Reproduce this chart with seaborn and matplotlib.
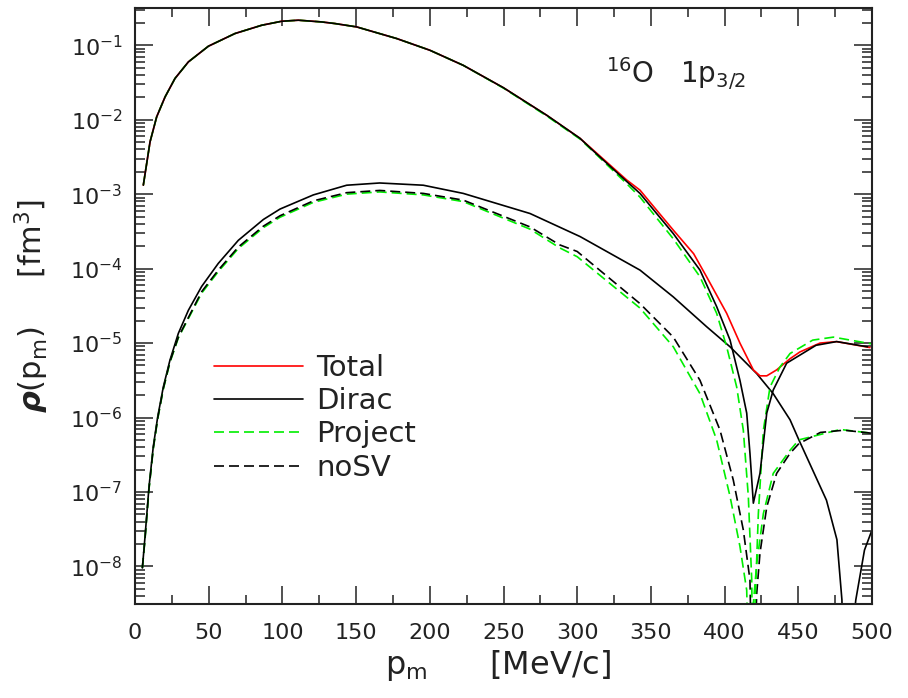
import numpy as np
import pandas as pd
import matplotlib
matplotlib.use("Agg")
import matplotlib.pyplot as plt
from matplotlib.lines import Line2D
from matplotlib.ticker import LogLocator, MultipleLocator, NullFormatter
import seaborn as sns

# ---------------- data (y given as log10 of rho) ----------------
# upper-component curves
total_x = [5.65, 10.2, 14.7, 20.4, 27.1, 36.2, 49.8, 67.8, 85.9, 99.5, 110.8, 126.6, 135.7,
           150.4, 177.5, 200, 222.7, 249.9, 279.3, 301.9, 311, 333.6, 342.6, 356, 365.2,
           379, 387.8, 401.4, 410.4, 419.5, 424, 428.6, 435.3, 444.4, 451, 464.7, 476, 498.6]
total_log = [-2.879, -2.298, -1.962, -1.694, -1.447, -1.224, -1.013, -0.843, -0.732, -0.678,
             -0.664, -0.687, -0.709, -0.754, -0.91, -1.067, -1.27, -1.57, -1.94, -2.25, -2.41,
             -2.81, -2.946, -3.265, -3.483, -3.80, -4.11, -4.60, -5.00, -5.36, -5.44, -5.44,
             -5.36, -5.21, -5.12, -5.00, -4.98, -5.06]

dirac_up_x = [5.65, 10.2, 14.7, 20.4, 27.1, 36.2, 49.8, 67.8, 85.9, 99.5, 110.8, 126.6, 135.7,
              150.4, 177.5, 200, 222.7, 249.9, 279.3, 301.9, 311, 333.6, 342.6, 365.2, 383.3,
              394.6, 403.7, 410.4, 415, 417.2, 419.5, 424, 428.6, 433, 442.1, 462, 476, 497]
dirac_up_log = [-2.879, -2.298, -1.962, -1.694, -1.447, -1.224, -1.013, -0.843, -0.732, -0.678,
                -0.664, -0.687, -0.709, -0.754, -0.91, -1.067, -1.27, -1.57, -1.94, -2.25, -2.42,
                -2.83, -2.99, -3.53, -4.02, -4.51, -4.96, -5.50, -5.94, -6.48, -7.15, -6.75,
                -5.94, -5.63, -5.27, -5.03, -4.98, -5.05]

proj_up_x = [5.65, 10.2, 14.7, 20.4, 27.1, 36.2, 49.8, 67.8, 85.9, 99.5, 110.8, 126.6, 135.7,
             150.4, 177.5, 200, 222.7, 249.9, 279.3, 301.9, 311, 333.6, 342.6, 365.2, 383.3,
             394.6, 401.4, 408.2, 412.7, 416.1, 418.4, 419.5, 420.5, 422.9, 426.3, 430.8,
             437.6, 444.4, 459.8, 473.8, 499.6]
proj_up_log = [-2.879, -2.298, -1.962, -1.694, -1.447, -1.224, -1.013, -0.843, -0.732, -0.678,
               -0.664, -0.687, -0.709, -0.754, -0.91, -1.067, -1.27, -1.575, -1.95, -2.26, -2.43,
               -2.86, -3.04, -3.60, -4.11, -4.60, -5.05, -5.59, -6.17, -7.06, -8.18, -10.0,
               -8.6, -7.29, -6.17, -5.59, -5.32, -5.14, -4.96, -4.92, -5.01]

# lower-component curves
dirac_lo_x = [5.0, 6.8, 9.5, 12.4, 15.4, 19.2, 23.7, 29.4, 36.2, 45.2, 56.5, 70.1, 87.1, 98.4,
              121, 143.6, 166, 195.6, 222.7, 268, 302, 342.6, 365.2, 387.8, 403.7, 421.8, 433,
              444.4, 450.4, 469.1, 476.2, 479.6, 481, 489, 494.9, 500]
dirac_lo_log = [-8.02, -7.60, -6.93, -6.39, -5.99, -5.59, -5.23, -4.87, -4.56, -4.24, -3.93,
                -3.62, -3.34, -3.20, -3.01, -2.88, -2.85, -2.88, -2.99, -3.26, -3.57, -4.02,
                -4.38, -4.78, -5.05, -5.41, -5.68, -6.03, -6.30, -7.11, -7.64, -8.45, -10.0,
                -8.45, -7.78, -7.51]

nosv_lo_x = [5.0, 6.8, 9.5, 12.4, 15.4, 19.2, 23.7, 29.4, 45.2, 56.5, 70.1, 87.1, 98.4, 121,
             143.6, 166, 195.6, 222.7, 268, 288, 300, 342.6, 365.2, 383.3, 396.9, 405.9, 412.7,
             417.2, 419, 421.8, 424, 428.6, 435.3, 444.4, 450.4, 465, 480.9, 499.6]
nosv_lo_log = [-8.02, -7.62, -6.95, -6.41, -6.01, -5.61, -5.25, -4.92, -4.31, -4.02, -3.71,
               -3.43, -3.29, -3.09, -2.98, -2.95, -2.99, -3.08, -3.44, -3.68, -3.77, -4.47,
               -4.92, -5.50, -6.17, -6.84, -7.51, -8.18, -10.0, -8.36, -7.82, -7.20, -6.75,
               -6.48, -6.35, -6.20, -6.17, -6.21]

proj_lo_x = [5.0, 6.8, 9.5, 12.4, 15.4, 19.2, 23.7, 29.4, 45.2, 56.5, 70.1, 87.1, 98.4, 121,
             143.6, 166, 195.6, 222.7, 268, 288, 300, 342.6, 365.2, 383.3, 394.6, 403.7, 410.4,
             415, 417, 419.5, 421.8, 426.3, 433, 444.4, 450.4, 478.5, 499.6]
proj_lo_log = [-8.02, -7.63, -6.96, -6.42, -6.02, -5.62, -5.26, -4.93, -4.33, -4.04, -3.73,
               -3.45, -3.31, -3.11, -3.00, -2.97, -3.01, -3.10, -3.47, -3.72, -3.84, -4.53,
               -5.05, -5.68, -6.30, -7.06, -7.73, -8.32, -10.0, -8.5, -7.96, -7.29, -6.75,
               -6.44, -6.30, -6.16, -6.21]

legend_labels = ["Total", "Dirac", "Project", "noSV"]

# ---------------- figure ----------------
sns.set_style("ticks")
plt.rcParams["font.family"] = ["DejaVu Sans"]
plt.rcParams["mathtext.default"] = "regular"

fig = plt.figure(figsize=(9.08, 6.98), dpi=100)
ax = fig.add_axes([135 / 908, 1 - 603.7 / 698, (872 - 135) / 908, (603.7 - 8) / 698])

GREEN = "#00ee00"
TXT = "#222222"
LW = 1.2
DASH = (0, (6, 3))


def draw(x, ylog, color, ls):
    df = pd.DataFrame({"x": x, "rho": np.power(10.0, np.asarray(ylog))})
    sns.lineplot(data=df, x="x", y="rho", ax=ax, color=color, linewidth=LW,
                 linestyle=ls, sort=False, estimator=None, legend=False)


# lower components
draw(dirac_lo_x, dirac_lo_log, "black", "-")
draw(proj_lo_x, proj_lo_log, GREEN, DASH)
draw(nosv_lo_x, nosv_lo_log, "black", DASH)
# upper components
draw(total_x, total_log, "red", "-")
draw(proj_up_x, proj_up_log, GREEN, DASH)
draw(dirac_up_x, dirac_up_log, "black", "-")

ax.set_yscale("log")
ax.set_xlim(0, 500)
ax.set_ylim(10 ** -8.5, 10 ** -0.5)

ax.xaxis.set_major_locator(MultipleLocator(50))
ax.xaxis.set_minor_locator(MultipleLocator(25))
ax.yaxis.set_major_locator(LogLocator(base=10, numticks=20))
ax.yaxis.set_minor_locator(LogLocator(base=10, subs=np.arange(2, 10), numticks=20))
ax.yaxis.set_minor_formatter(NullFormatter())

for s in ax.spines.values():
    s.set_linewidth(1.5)
    s.set_color(TXT)
ax.tick_params(which="both", direction="in", top=True, right=True, width=1.1,
               colors=TXT, labelcolor=TXT)
ax.tick_params(axis="x", which="major", length=13, labelsize=16, pad=14)
ax.tick_params(axis="x", which="minor", length=6.5)
ax.tick_params(axis="y", which="major", length=13, labelsize=16, pad=9)
ax.tick_params(axis="y", which="minor", length=7.5)

ax.set_xlabel(r"p$_\mathrm{m}$      [MeV/c]", fontsize=23, labelpad=3, color=TXT)
ax.xaxis.set_label_coords(0.493, -0.075)
ax.set_ylabel(r"$\boldsymbol{\rho}$(p$_\mathrm{m}$)     [fm$^3$]", fontsize=22,
              labelpad=14, color=TXT)

ax.text(0.639, 0.874, r"$^{16}$O   1p$_{3/2}$", transform=ax.transAxes, fontsize=20,
        ha="left", va="baseline", color=TXT)

handles = [Line2D([], [], color="red", lw=LW),
           Line2D([], [], color="black", lw=LW),
           Line2D([], [], color=GREEN, lw=LW, linestyle=DASH),
           Line2D([], [], color="black", lw=LW, linestyle=DASH)]
ax.legend(handles, legend_labels, loc="upper left", bbox_to_anchor=(0.107, 0.4192),
          frameon=False, fontsize=21, handlelength=3.05, handletextpad=0.45,
          labelspacing=0.18, borderpad=0, borderaxespad=0, labelcolor=TXT)

fig.savefig("out.png", dpi=100)
